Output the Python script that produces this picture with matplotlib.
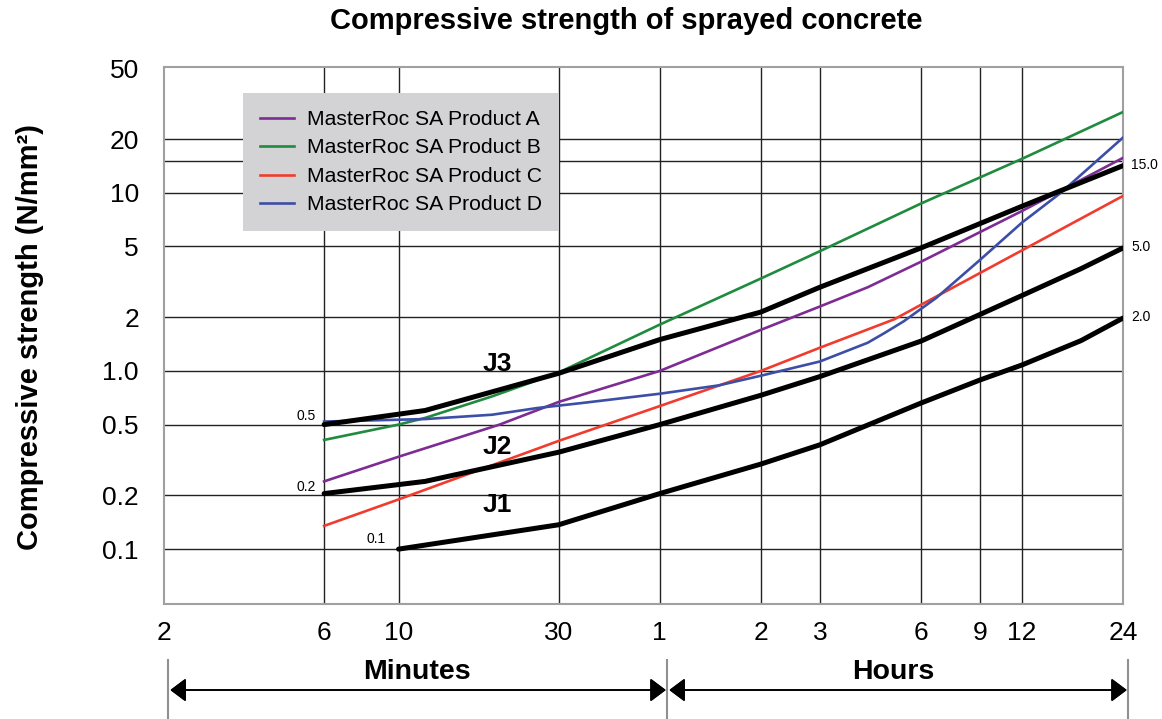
from matplotlib import pyplot as plt
from matplotlib.lines import Line2D

plt.rcParams['font.family'] = ['Liberation Sans', 'DejaVu Sans']

# time in minutes, strength in N/mm2
j3_t = [6, 12, 30, 60, 120, 180, 360, 720, 1440]
j3_s = [0.5, 0.6, 0.97, 1.5, 2.14, 2.95, 4.9, 8.4, 14.2]
j2_t = [6, 12, 30, 60, 120, 180, 360, 720, 1080, 1440]
j2_s = [0.205, 0.24, 0.35, 0.5, 0.73, 0.93, 1.47, 2.65, 3.75, 4.9]
j1_t = [10, 30, 60, 120, 180, 360, 540, 720, 1080, 1440]
j1_s = [0.1, 0.137, 0.205, 0.3, 0.385, 0.66, 0.89, 1.08, 1.48, 1.98]

a_t = [6, 10, 20, 30, 60, 120, 180, 250, 360, 720, 1440]
a_s = [0.24, 0.33, 0.5, 0.67, 1.0, 1.7, 2.3, 2.95, 4.1, 7.9, 15.7]
b_t = [6, 10, 12, 19, 30, 60, 120, 180, 360, 720, 1440]
b_s = [0.41, 0.5, 0.545, 0.72, 0.98, 1.82, 3.3, 4.7, 8.7, 15.5, 28.4]
c_t = [6, 10, 30, 60, 120, 180, 300, 360, 720, 1440]
c_s = [0.135, 0.19, 0.405, 0.635, 1.0, 1.35, 1.95, 2.35, 4.75, 9.6]
d_t = [6, 12, 19, 26, 35, 60, 90, 120, 180, 250, 280, 320, 400, 540, 720, 940, 1440]
d_s = [0.52, 0.537, 0.568, 0.62, 0.66, 0.745, 0.83, 0.94, 1.13, 1.44, 1.63, 1.9, 2.57, 4.2, 6.8, 10.0, 20.4]

products = ['MasterRoc SA Product A', 'MasterRoc SA Product B',
            'MasterRoc SA Product C', 'MasterRoc SA Product D']
colors = ['#7d2c93', '#1f8b3e', '#f03c2e', '#3d4ea6']

xticks = [2, 6, 10, 30, 60, 120, 180, 360, 540, 720, 1440]
xlabels = ['2', '6', '10', '30', '1', '2', '3', '6', '9', '12', '24']
yticks = [0.1, 0.2, 0.5, 1, 2, 5, 10, 20, 50]
ylabels = ['0.1', '0.2', '0.5', '1.0', '2', '5', '10', '20', '50']
hgrid = [0.1, 0.2, 0.5, 1, 2, 5, 10, 15, 20]

fig = plt.figure(figsize=(11.62, 7.19), dpi=100)
ax = fig.add_axes([0.1411, 0.1595, 0.8253, 0.7477])
ax.set_xscale('log')
ax.set_yscale('log')
ax.set_xlim(2, 1440)
ax.set_ylim(0.049, 51)

# grid lines
for v in hgrid:
    ax.axhline(v, color='#222222', lw=1, zorder=1)
for v in xticks[1:-1]:
    ax.axvline(v, color='#222222', lw=1, zorder=1)
for sp in ax.spines.values():
    sp.set_color('#a0a0a0')
    sp.set_linewidth(1.5)

# product curves
for t, s, lab, col in zip([a_t, b_t, c_t, d_t], [a_s, b_s, c_s, d_s], products, colors):
    ax.plot(t, s, color=col, lw=1.9, label=lab, zorder=3)

# J-class limits
for t, s in [(j3_t, j3_s), (j2_t, j2_s), (j1_t, j1_s)]:
    ax.plot(t, s, color='black', lw=3.6, zorder=4, solid_capstyle='round')

ax.text(19.7, 1.1, 'J3', fontsize=19, fontweight='bold', ha='center', va='center')
ax.text(19.7, 0.376, 'J2', fontsize=19, fontweight='bold', ha='center', va='center')
ax.text(19.7, 0.177, 'J1', fontsize=19, fontweight='bold', ha='center', va='center')

# start / end values
ax.annotate('0.5', (j3_t[0], j3_s[0]), xytext=(-6, 6.5), textcoords='offset points',
            ha='right', va='center', fontsize=10)
ax.annotate('0.2', (j2_t[0], j2_s[0]), xytext=(-6, 5), textcoords='offset points',
            ha='right', va='center', fontsize=10)
ax.annotate('0.1', (j1_t[0], j1_s[0]), xytext=(-9, 7.5), textcoords='offset points',
            ha='right', va='center', fontsize=10)
ax.annotate('15.0', (j3_t[-1], j3_s[-1]), xytext=(6, 0.5), textcoords='offset points',
            ha='left', va='center', fontsize=10, annotation_clip=False)
ax.annotate('5.0', (j2_t[-1], j2_s[-1]), xytext=(6, 1), textcoords='offset points',
            ha='left', va='center', fontsize=10, annotation_clip=False)
ax.annotate('2.0', (j1_t[-1], j1_s[-1]), xytext=(6, 1), textcoords='offset points',
            ha='left', va='center', fontsize=10, annotation_clip=False)

ax.set_xticks(xticks)
ax.set_xticklabels(xlabels)
ax.set_yticks(yticks)
ax.set_yticklabels(ylabels)
ax.minorticks_off()
ax.tick_params(axis='x', length=0, pad=12, labelsize=19)
ax.tick_params(axis='y', length=0, pad=18, labelsize=19)

leg = ax.legend(loc='upper left', bbox_to_anchor=(0.0824, 0.951), fontsize=15.2,
                frameon=True, fancybox=False, facecolor='#d3d3d5', edgecolor='none',
                framealpha=1, handlelength=1.6, handletextpad=0.62, labelspacing=0.45,
                borderpad=0.8, borderaxespad=0)
leg.set_zorder(5)

fig.text(0.539, 0.971, 'Compressive strength of sprayed concrete', fontsize=21,
         fontweight='bold', ha='center', va='center')
fig.text(0.026, 0.531, 'Compressive strength (N/mm²)', fontsize=21, fontweight='bold',
         rotation=90, ha='center', va='center')

# minutes / hours bar below the axis
xa, xm, xb = 168 / 1162, 667 / 1162, 1128 / 1162
ya = 0.0403
for xv in [xa, xm, xb]:
    fig.add_artist(Line2D([xv, xv], [0.0, 0.082], color='#909090', lw=1.5))
arrow = dict(arrowstyle='<|-|>,head_length=0.4,head_width=0.3', color='black', lw=1.2,
             mutation_scale=24, shrinkA=0, shrinkB=0)
fig.add_artist(plt.annotate('', xy=(xm - 0.001, ya), xytext=(xa + 0.002, ya),
                            xycoords='figure fraction', arrowprops=arrow))
fig.add_artist(plt.annotate('', xy=(xb - 0.001, ya), xytext=(xm + 0.002, ya),
                            xycoords='figure fraction', arrowprops=arrow))
fig.text(417 / 1162, 0.0654, 'Minutes', fontsize=20.5, fontweight='bold', ha='center', va='center')
fig.text(893 / 1162, 0.0654, 'Hours', fontsize=20.5, fontweight='bold', ha='center', va='center')

plt.savefig('out.png', dpi=100)
